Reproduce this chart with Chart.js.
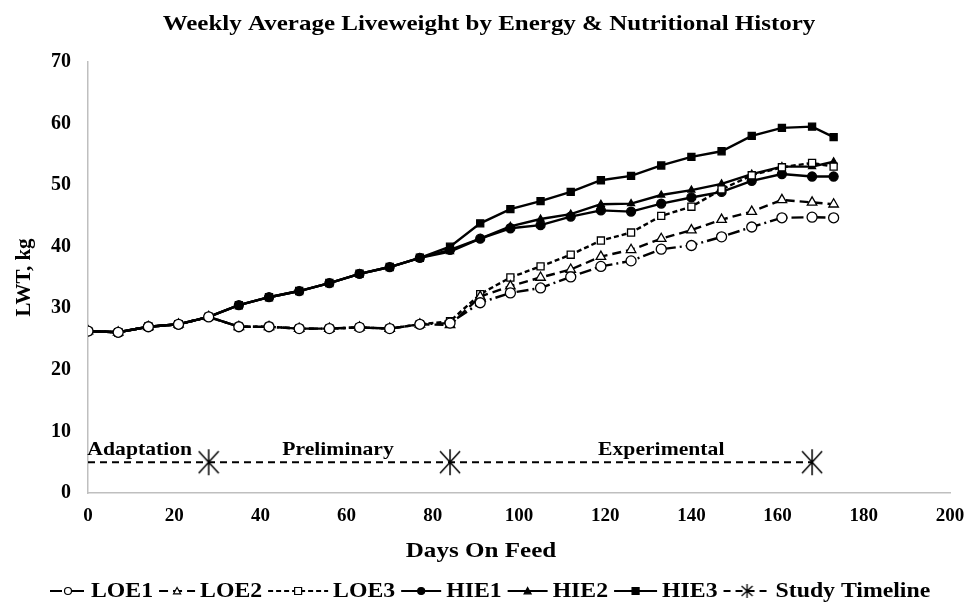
<!DOCTYPE html>
<html>
<head>
<meta charset="utf-8">
<script src="https://cdn.jsdelivr.net/npm/chart.js@4.4.1/dist/chart.umd.min.js"></script>
<style>
  html, body { margin: 0; padding: 0; background: #fff; }
  #wrap { width: 968px; height: 603px; }
</style>
</head>
<body>
<div id="wrap"><canvas id="c" width="968" height="603"></canvas></div>
<script>
// ── Data ──
const days = [0, 7, 14, 21, 28, 35, 42, 49, 56, 63, 70, 77, 84, 91, 98, 105, 112, 119, 126, 133, 140, 147, 154, 161, 168, 173];

const loe1 = [26.3, 26.1, 27.0, 27.4, 28.6, 27.0, 27.0, 26.7, 26.7, 26.9, 26.7, 27.4, 27.6, 30.9, 32.5, 33.3, 35.1, 36.8, 37.7, 39.6, 40.2, 41.6, 43.2, 44.7, 44.8, 44.7];
const loe2 = [26.3, 26.1, 27.0, 27.4, 28.6, 27.0, 27.0, 26.7, 26.7, 26.9, 26.7, 27.4, 27.3, 31.9, 33.6, 35.0, 36.3, 38.4, 39.5, 41.3, 42.7, 44.4, 45.7, 47.6, 47.2, 46.9];
const loe3 = [26.3, 26.1, 27.0, 27.4, 28.6, 27.0, 27.0, 26.7, 26.7, 26.9, 26.7, 27.4, 27.9, 32.3, 35.0, 36.8, 38.7, 41.0, 42.3, 45.0, 46.5, 49.3, 51.6, 52.9, 53.6, 53.0];
const hie1 = [26.3, 26.1, 27.0, 27.4, 28.6, 30.5, 31.8, 32.8, 34.1, 35.6, 36.7, 38.2, 39.5, 41.3, 43.0, 43.5, 44.9, 45.9, 45.7, 47.0, 48.0, 48.9, 50.7, 51.8, 51.4, 51.4];
const hie2 = [26.3, 26.1, 27.0, 27.4, 28.6, 30.5, 31.8, 32.8, 34.1, 35.6, 36.7, 38.2, 39.2, 41.3, 43.3, 44.5, 45.3, 46.9, 47.0, 48.4, 49.2, 50.2, 51.8, 53.0, 53.0, 53.8];
const hie3 = [26.3, 26.1, 27.0, 27.4, 28.6, 30.5, 31.8, 32.8, 34.1, 35.6, 36.7, 38.2, 40.0, 43.8, 46.1, 47.4, 48.9, 50.8, 51.5, 53.2, 54.6, 55.5, 58.0, 59.3, 59.5, 57.8];

const timelineDays = [0, 28, 84, 168];
const timelineLwt  = [5, 5, 5, 5];

const phaseLabels = ['Adaptation', 'Preliminary', 'Experimental'];
const phaseDays   = [12, 58, 133];
const phaseLwt    = [7, 7, 7];

const xTicks = [0, 20, 40, 60, 80, 100, 120, 140, 160, 180, 200];
const yTicks = [0, 10, 20, 30, 40, 50, 60, 70];

const TITLE  = 'Weekly Average Liveweight by Energy & Nutritional History';
const XTITLE = 'Days On Feed';
const SERIF  = "'Liberation Serif', 'Times New Roman', serif";

// legend segment lengths (Excel spacing differs per item)
const legendSeg = [36, 36, 60, 40, 40, 43, 47];

// ── Star marker (vertical bar + two diagonals) ──
function makeStar(w, h, lw) {
    const cv = document.createElement('canvas');
    cv.width = w; cv.height = h;
    const c = cv.getContext('2d');
    c.strokeStyle = '#000';
    c.lineWidth = lw;
    c.beginPath();
    c.moveTo(w / 2, 1);   c.lineTo(w / 2, h - 1);
    c.moveTo(1, 3);       c.lineTo(w - 1, h - 3);
    c.moveTo(w - 1, 3);   c.lineTo(1, h - 3);
    c.stroke();
    return cv;
}
const starBig   = makeStar(22, 28, 1.5);
const starSmall = makeStar(13, 16, 1.3);

function xy(xs, ys) { return xs.map((x, i) => ({ x, y: ys[i] })); }

function series(label, data, dash, style, filled, radius) {
    return {
        label,
        data: xy(days, data),
        borderColor: '#000',
        backgroundColor: filled ? '#000' : '#fff',
        borderWidth: 2.4,
        borderDash: dash,
        pointStyle: style,
        pointRadius: radius,
        pointBorderWidth: 1.3,
        pointBackgroundColor: filled ? '#000' : '#fff',
        pointBorderColor: '#000',
        tension: 0
    };
}

const datasets = [
    series('LOE1', loe1, [12, 4, 2, 4], 'circle', false, 5),
    series('LOE2', loe2, [9, 5], 'triangle', false, 5.5),
    series('LOE3', loe3, [5, 3], 'rect', false, 5),
    series('HIE1', hie1, [], 'circle', true, 4.5),
    series('HIE2', hie2, [], 'triangle', true, 4),
    series('HIE3', hie3, [], 'rect', true, 5),
    {
        label: 'Study Timeline',
        data: xy(timelineDays, timelineLwt),
        borderColor: '#000',
        borderWidth: 2,
        borderDash: [7, 5],
        pointStyle: timelineDays.map(d => d === 0 ? false : starBig),
        pointRadius: 11,
        tension: 0
    }
];

// the source picture is a bit wider than tall, so text is stretched sideways
function wideText(ctx, text, x, y, sx, align) {
    ctx.save();
    ctx.translate(x, y);
    ctx.scale(sx, 1);
    ctx.textAlign = align || 'center';
    ctx.fillText(text, 0, 0);
    ctx.restore();
}

// ── Title, x title and phase labels ──
const textPlugin = {
    id: 'texts',
    afterDatasetsDraw(chart) {
        const { ctx, scales: { x, y } } = chart;
        ctx.save();
        ctx.fillStyle = '#000';
        ctx.textBaseline = 'middle';

        ctx.font = 'bold 21px ' + SERIF;
        wideText(ctx, TITLE, 489, 25, 1.19);

        ctx.font = 'bold 22px ' + SERIF;
        wideText(ctx, XTITLE, 481, 551, 1.14);

        ctx.font = 'bold 19px ' + SERIF;
        phaseLabels.forEach((t, i) => {
            wideText(ctx, t, x.getPixelForValue(phaseDays[i]), y.getPixelForValue(phaseLwt[i]), 1.14);
        });
        ctx.restore();
    }
};

// ── Legend at bottom, line + marker + label ──
function drawMarker(ctx, style, filled, r, cx, cy) {
    ctx.fillStyle = filled ? '#000' : '#fff';
    ctx.strokeStyle = '#000';
    ctx.lineWidth = 1.2;
    ctx.setLineDash([]);
    ctx.beginPath();
    if (style === 'circle') {
        ctx.arc(cx, cy, r, 0, Math.PI * 2);
    } else if (style === 'triangle') {
        ctx.moveTo(cx, cy - r);
        ctx.lineTo(cx + r, cy + r * 0.8);
        ctx.lineTo(cx - r, cy + r * 0.8);
        ctx.closePath();
    } else if (style === 'rect') {
        ctx.rect(cx - r, cy - r, r * 2, r * 2);
    }
    ctx.fill();
    ctx.stroke();
}

const legendPlugin = {
    id: 'bottomLegend',
    afterDraw(chart) {
        const { ctx } = chart;
        const yMid = 591;
        const sx = 1.08;
        let xPos = 50;
        ctx.save();
        ctx.font = 'bold 22px ' + SERIF;
        ctx.textBaseline = 'middle';
        chart.data.datasets.forEach((ds, i) => {
            const seg = legendSeg[i];
            ctx.strokeStyle = '#000';
            ctx.lineWidth = 2.2;
            ctx.setLineDash(ds.borderDash || []);
            ctx.beginPath();
            ctx.moveTo(xPos, yMid);
            ctx.lineTo(xPos + seg, yMid);
            ctx.stroke();
            const cx = xPos + seg / 2;
            if (ds.label === 'Study Timeline') {
                ctx.drawImage(starSmall, cx - 6.5, yMid - 8);
            } else {
                drawMarker(ctx, ds.pointStyle, ds.pointBackgroundColor === '#000', 3.5, cx, yMid);
            }
            ctx.setLineDash([]);
            ctx.fillStyle = '#000';
            const tx = xPos + seg + 5;
            wideText(ctx, ds.label, tx, yMid, sx, 'left');
            xPos = tx + ctx.measureText(ds.label).width * sx + 6;
        });
        ctx.restore();
    }
};

new Chart(document.getElementById('c'), {
    type: 'line',
    data: { datasets },
    options: {
        responsive: false,
        animation: false,
        layout: { padding: { left: 0, right: 18, top: 62, bottom: 40 } },
        plugins: {
            legend: { display: false },
            tooltip: { enabled: false },
            title: { display: false }
        },
        scales: {
            x: {
                type: 'linear',
                min: 0, max: 200,
                afterBuildTicks: s => { s.ticks = xTicks.map(v => ({ value: v })); },
                grid: { display: false, drawTicks: false },
                border: { color: '#bfbfbf', width: 1.5 },
                ticks: { color: '#000', padding: 12, font: { family: SERIF, size: 19, weight: 'bold' } },
                afterFit: s => { s.height = 70; s.paddingRight = 0; }
            },
            y: {
                min: 0, max: 70,
                afterBuildTicks: s => { s.ticks = yTicks.map(v => ({ value: v })); },
                grid: { display: false, drawTicks: false },
                border: { color: '#bfbfbf', width: 1.5 },
                ticks: { color: '#000', padding: 17, font: { family: SERIF, size: 20, weight: 'bold' } },
                title: {
                    display: true, text: 'LWT, kg', color: '#000',
                    font: { family: SERIF, size: 21, weight: 'bold' },
                    padding: { top: 12, bottom: 0 }
                },
                afterFit: s => { s.width = 88; }
            }
        }
    },
    plugins: [textPlugin, legendPlugin]
});
</script>
</body>
</html>
